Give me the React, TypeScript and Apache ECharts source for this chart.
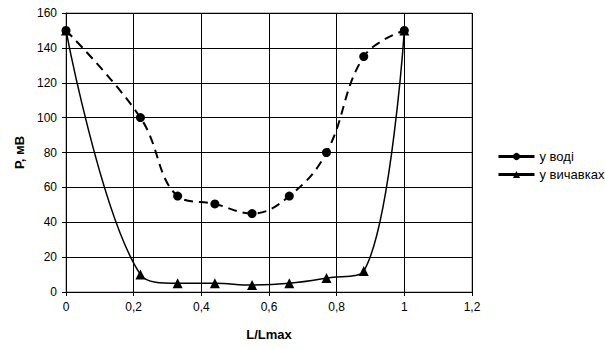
import React, { useEffect, useRef } from "react";
import * as echarts from "echarts";

const xValues = [0, 0.22, 0.33, 0.44, 0.55, 0.66, 0.77, 0.88, 1];
const waterValues = [150, 100, 55, 50.5, 45, 55, 80, 135, 150];
const pomaceValues = [150, 10, 5, 5, 4, 5, 8, 12, 150];
const seriesNames = ["у воді", "у вичавках"];

const fmt = (v: number) => String(v).replace(".", ",");

export default function App() {
  const ref = useRef<HTMLDivElement>(null);
  useEffect(() => {
    if (!ref.current) return;
    const chart = echarts.init(ref.current, undefined, { renderer: "svg" });
    const font = "Liberation Sans, Arial, sans-serif";
    chart.setOption({
      animation: false,
      backgroundColor: "#fff",
      textStyle: { fontFamily: font },
      grid: {
        left: 66,
        right: 133,
        top: 13,
        bottom: 57,
        show: true,
        borderColor: "#808080",
        borderWidth: 1,
      },
      legend: {
        orient: "vertical",
        left: 492,
        top: 145,
        itemWidth: 36,
        itemHeight: 9,
        itemGap: 5,
        textStyle: { fontFamily: font, fontSize: 13, color: "#000" },
        lineStyle: { type: "solid", width: 3 },
        data: seriesNames,
      },
      xAxis: {
        type: "value",
        min: 0,
        max: 1.2,
        interval: 0.2,
        name: "L/Lmax",
        nameLocation: "middle",
        nameGap: 36,
        nameTextStyle: { fontFamily: font, fontSize: 13, fontWeight: "bold", color: "#000" },
        axisLine: { show: true, onZero: false, lineStyle: { color: "#000", width: 1 } },
        axisTick: { show: true, inside: false, length: 4, lineStyle: { color: "#000" } },
        axisLabel: { formatter: (v: number) => fmt(Math.round(v * 10) / 10), fontSize: 12, color: "#000", margin: 9, fontFamily: font },
        splitLine: { show: true, lineStyle: { color: "#000", width: 1 } },
      },
      yAxis: {
        type: "value",
        min: 0,
        max: 160,
        interval: 20,
        name: "Р, мВ",
        nameLocation: "middle",
        nameGap: 40,
        nameRotate: 90,
        nameTextStyle: { fontFamily: font, fontSize: 13, fontWeight: "bold", color: "#000" },
        axisLine: { show: true, lineStyle: { color: "#000", width: 1 } },
        axisTick: { show: true, inside: false, length: 4, lineStyle: { color: "#000" } },
        axisLabel: { fontSize: 12, color: "#000", margin: 9, fontFamily: font },
        splitLine: { show: true, lineStyle: { color: "#000", width: 1 } },
      },
      series: [
        {
          name: seriesNames[0],
          type: "line",
          smooth: 0.4,
          data: xValues.map((x, i) => [x, waterValues[i]]),
          symbol: "circle",
          symbolSize: 9,
          itemStyle: { color: "#000" },
          lineStyle: { color: "#000", width: 2, type: [9, 6] },
          z: 3,
        },
        {
          name: seriesNames[1],
          type: "line",
          smooth: 0.4,
          data: xValues.map((x, i) => [x, pomaceValues[i]]),
          symbol: "triangle",
          symbolSize: 10,
          itemStyle: { color: "#000" },
          lineStyle: { color: "#000", width: 1.5, type: "solid" },
          z: 4,
        },
      ],
    });
    return () => chart.dispose();
  }, []);
  return <div ref={ref} style={{ width: 605, height: 349, position: "absolute", left: 0, top: 0 }} />;
}
